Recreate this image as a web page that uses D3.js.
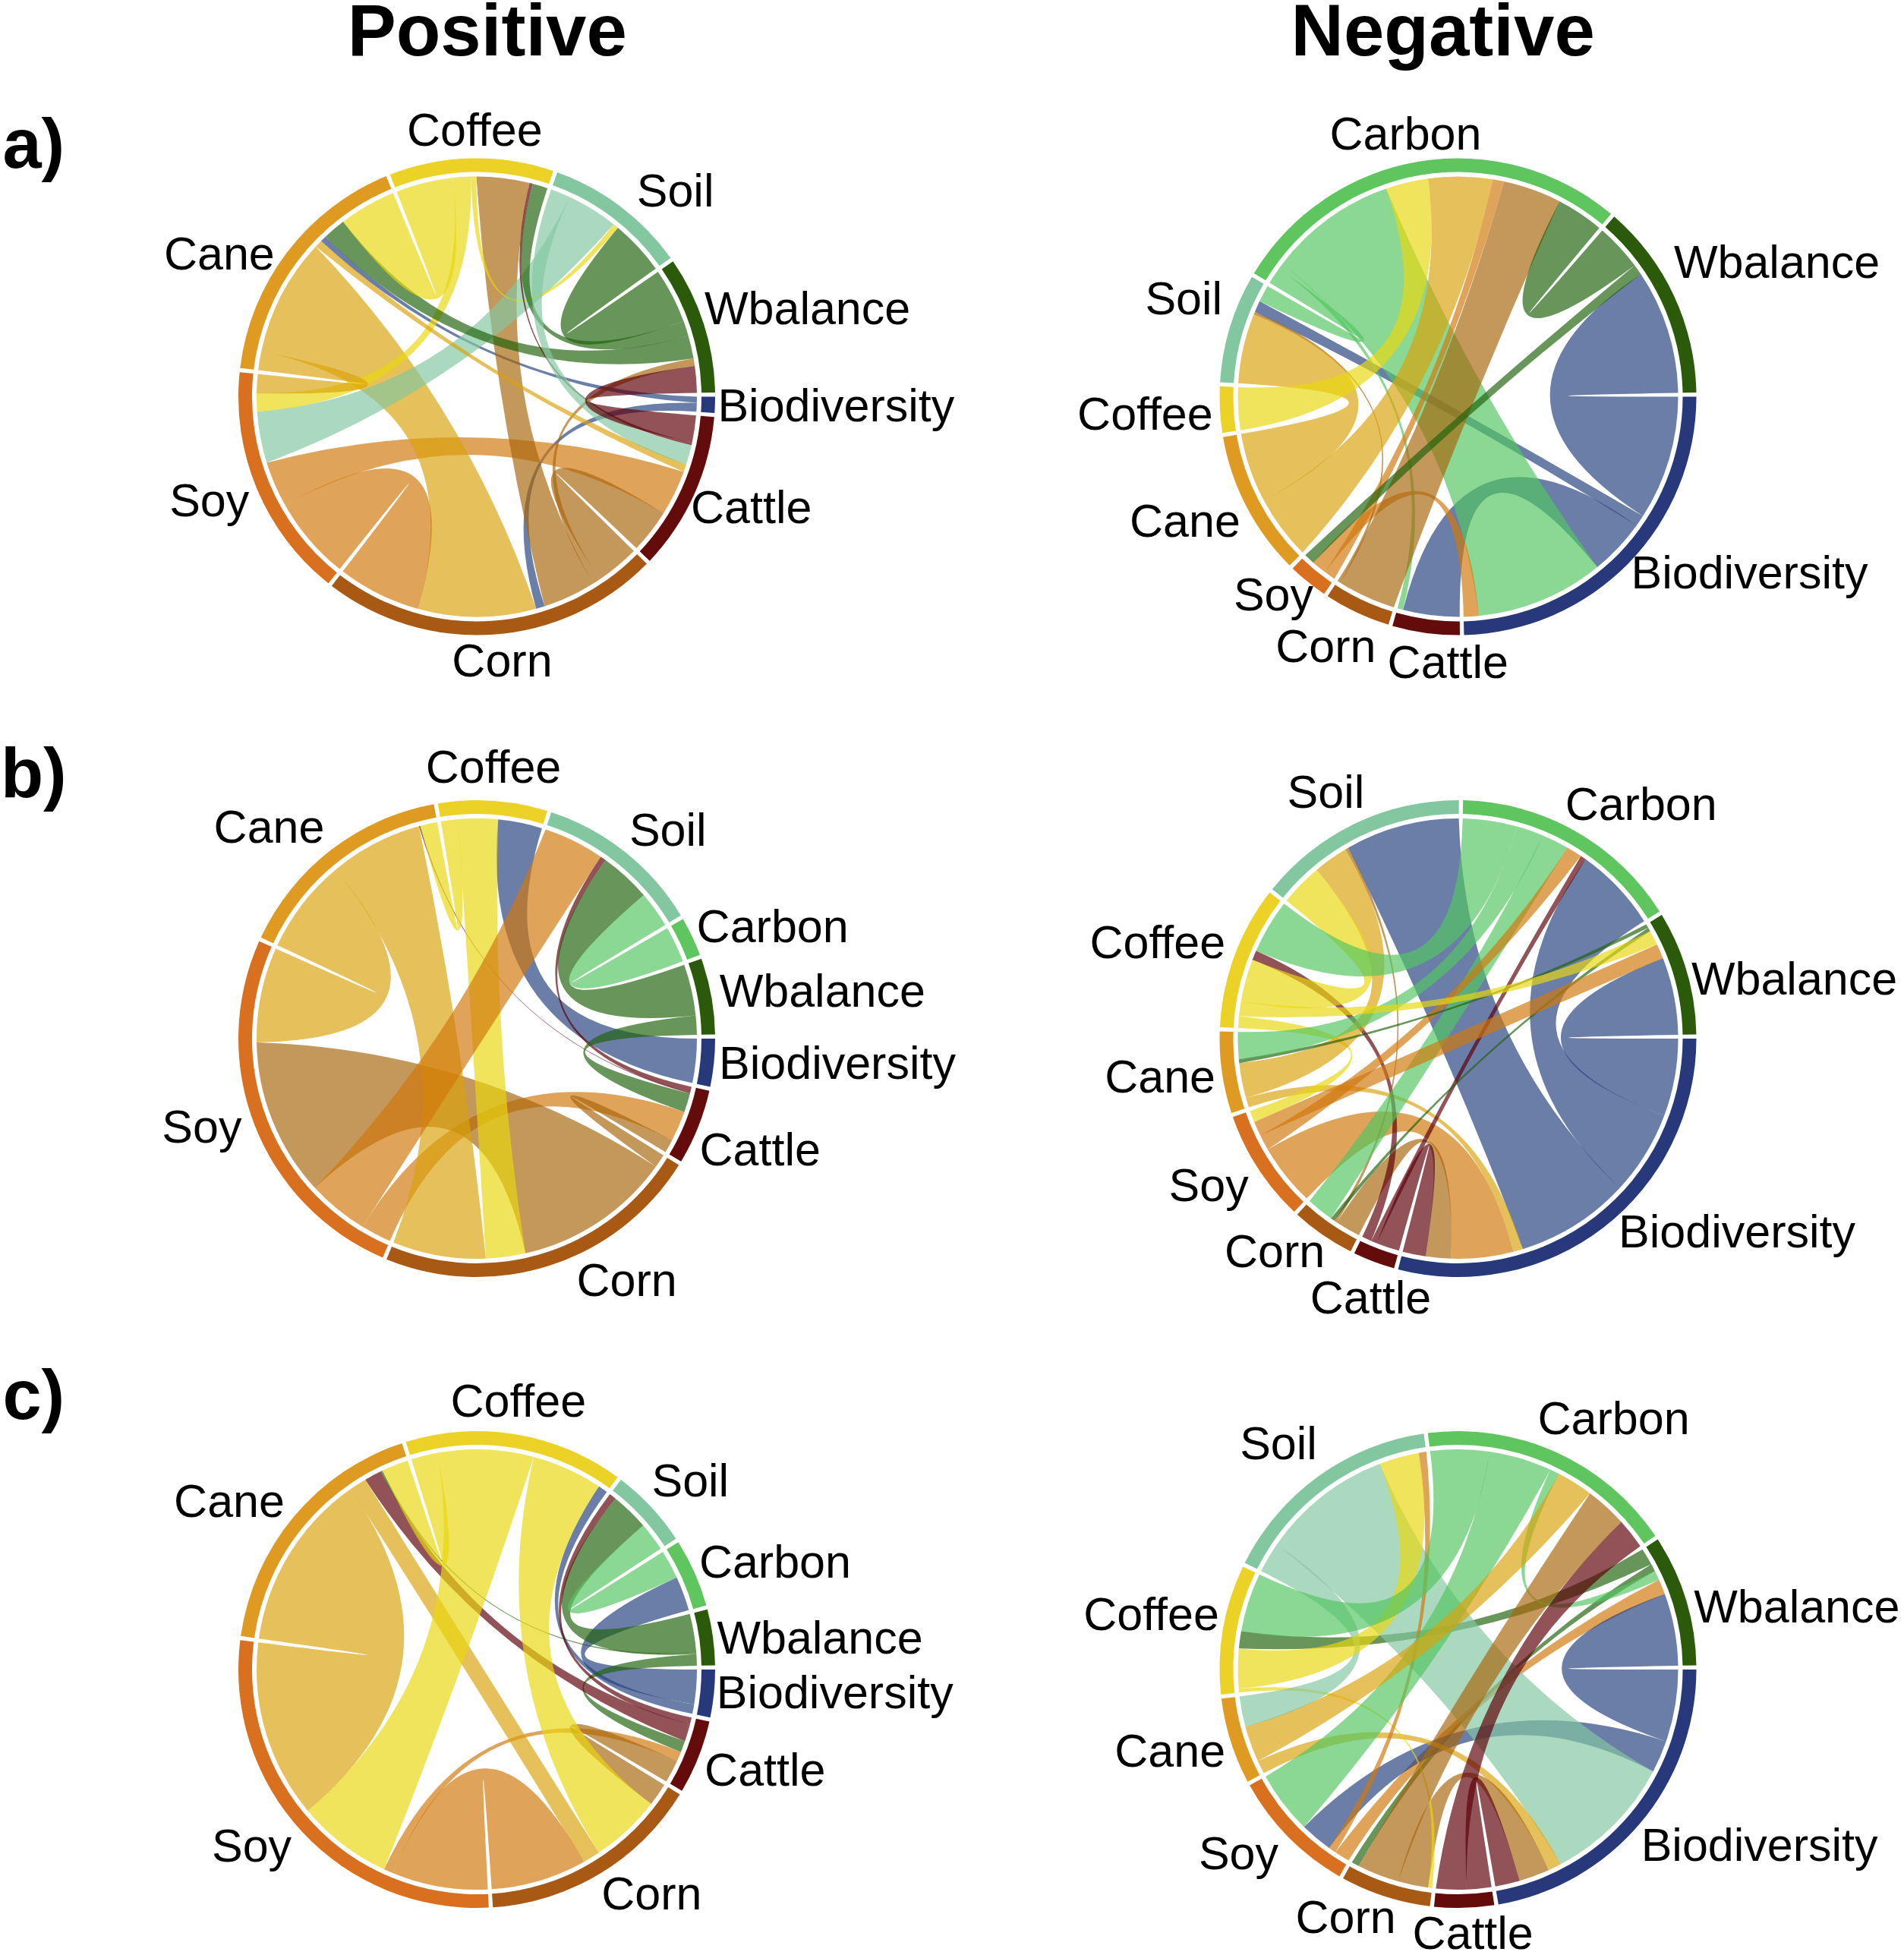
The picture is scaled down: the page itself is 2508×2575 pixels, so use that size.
<!DOCTYPE html>
<html>
<head>
<meta charset="utf-8">
<script src="https://cdn.jsdelivr.net/npm/d3@7"></script>
<style>
  body { margin: 0; background: #fff; }
  text { font-family: "Liberation Sans", Arial, sans-serif; fill: #000; }
</style>
</head>
<body>
<div id="vis-holder"></div>
<script>
// Sector colours, the ribbons use a slightly different set than the outer ring
const sectorNames = ["Biodiversity", "Cattle", "Corn", "Soy", "Cane", "Coffee", "Soil", "Carbon", "Wbalance"];
const sectorColors = ["#27397a", "#640c0c", "#a85a14", "#d9701f", "#df9a22", "#ecd226", "#83c7a1", "#5fc55f", "#2a5a0a"];
const ribbonColors = ["#25417f", "#5d0009", "#a8650c", "#d1780c", "#daa20c", "#e9d70f", "#83c7a1", "#53c660", "#21630c"];

// a) Positive. Each link is [colour owner, other sector, value]
const sectorsA1 = ["Biodiversity", "Cattle", "Corn", "Soy", "Cane", "Coffee", "Soil", "Wbalance"];
const linksA1 = [
  ["Biodiversity", "Cane", 1.6], ["Biodiversity", "Corn", 2.3],
  ["Soy", "Cattle", 12], ["Corn", "Cattle", 11.5], ["Corn", "Wbalance", 2], ["Corn", "Coffee", 14],
  ["Cane", "Corn", 31], ["Soy", "Corn", 22], ["Soil", "Soy", 13.5], ["Coffee", "Soy", 4.8],
  ["Cane", "Soy", 5], ["Cane", "Cattle", 2], ["Wbalance", "Cane", 6], ["Coffee", "Cane", 15],
  ["Coffee", "Soil", 1.4], ["Cattle", "Coffee", 0.8], ["Wbalance", "Coffee", 4], ["Wbalance", "Soil", 14.5],
  ["Soil", "Cattle", 5.2], ["Cattle", "Wbalance", 7]
];
const orderA1 = {
  Biodiversity: ["Cane", "Corn"],
  Cattle: ["Wbalance", "Coffee", "Soil", "Cane", "Soy", "Corn"],
  Corn: ["Cattle", "Wbalance", "Coffee", "Biodiversity", "Cane", "Soy"],
  Soy: ["Corn", "Cattle", "Soil", "Coffee", "Cane"],
  Cane: ["Soy", "Corn", "Cattle", "Biodiversity", "Wbalance", "Coffee"],
  Coffee: ["Cane", "Soy", "Soil", "Corn", "Cattle", "Wbalance"],
  Soil: ["Cattle", "Soy", "Coffee", "Wbalance"],
  Wbalance: ["Soil", "Coffee", "Cane", "Corn", "Cattle"]
};

// a) Negative
const sectorsA2 = ["Biodiversity", "Cattle", "Corn", "Soy", "Cane", "Coffee", "Soil", "Carbon", "Wbalance"];
const linksA2 = [
  ["Biodiversity", "Wbalance", 33], ["Biodiversity", "Soil", 3], ["Biodiversity", "Cattle", 15],
  ["Carbon", "Biodiversity", 34], ["Soy", "Biodiversity", 4], ["Carbon", "Cattle", 1.5],
  ["Corn", "Carbon", 15.5], ["Corn", "Soil", 0.8], ["Soy", "Carbon", 3], ["Cane", "Carbon", 17],
  ["Cane", "Soil", 18.5], ["Coffee", "Carbon", 11.3], ["Carbon", "Soil", 4.5],
  ["Wbalance", "Carbon", 12.5], ["Wbalance", "Soy", 2.8]
];
const orderA2 = {
  Biodiversity: ["Wbalance", "Soil", "Cattle", "Carbon", "Soy"],
  Cattle: ["Biodiversity", "Carbon"],
  Corn: ["Carbon", "Soil"],
  Soy: ["Carbon", "Biodiversity", "Wbalance"],
  Cane: ["Carbon", "Soil"],
  Coffee: ["Carbon"],
  Soil: ["Cane", "Corn", "Biodiversity", "Carbon"],
  Carbon: ["Soil", "Cattle", "Biodiversity", "Coffee", "Cane", "Soy", "Corn", "Wbalance"],
  Wbalance: ["Carbon", "Soy", "Biodiversity"]
};

// b) Positive
const sectorsB1 = ["Biodiversity", "Cattle", "Corn", "Soy", "Cane", "Coffee", "Soil", "Carbon", "Wbalance"];
const linksB1 = [
  ["Biodiversity", "Coffee", 11.6], ["Cattle", "Soil", 1.5], ["Cattle", "Cane", 0.3],
  ["Wbalance", "Cattle", 5], ["Soy", "Cattle", 8], ["Corn", "Cattle", 3.5], ["Corn", "Soy", 41.5],
  ["Coffee", "Corn", 10.4], ["Cane", "Corn", 24.5], ["Soy", "Soil", 16], ["Cane", "Soy", 25],
  ["Coffee", "Cane", 4.5], ["Wbalance", "Soil", 13.5], ["Carbon", "Soil", 9.5]
];
const orderB1 = {
  Biodiversity: ["Coffee"],
  Cattle: ["Soil", "Cane", "Wbalance", "Soy", "Corn"],
  Corn: ["Cattle", "Soy", "Coffee", "Cane"],
  Soy: ["Cattle", "Soil", "Corn", "Cane"],
  Cane: ["Soy", "Corn", "Cattle", "Coffee"],
  Coffee: ["Cane", "Corn", "Biodiversity"],
  Soil: ["Soy", "Cattle", "Wbalance", "Carbon"],
  Carbon: ["Soil"],
  Wbalance: ["Soil", "Cattle"]
};

// b) Negative
const sectorsB2 = ["Biodiversity", "Cattle", "Corn", "Soy", "Cane", "Coffee", "Soil", "Carbon", "Wbalance"];
const linksB2 = [
  ["Biodiversity", "Wbalance", 20], ["Biodiversity", "Carbon", 21.8], ["Biodiversity", "Soil", 29.5],
  ["Cane", "Biodiversity", 2.5], ["Soy", "Biodiversity", 16], ["Corn", "Biodiversity", 6.5],
  ["Cattle", "Biodiversity", 6], ["Cattle", "Carbon", 1.5], ["Cattle", "Coffee", 2.5],
  ["Corn", "Soil", 0.8], ["Wbalance", "Corn", 1], ["Carbon", "Corn", 7], ["Soy", "Carbon", 4],
  ["Soy", "Wbalance", 3.8], ["Coffee", "Soy", 3], ["Cane", "Soil", 9], ["Wbalance", "Cane", 1],
  ["Carbon", "Cane", 7], ["Coffee", "Wbalance", 3.8], ["Coffee", "Soil", 11], ["Carbon", "Coffee", 14]
];
const orderB2 = {
  Biodiversity: ["Wbalance", "Carbon", "Soil", "Cane", "Soy", "Corn", "Cattle"],
  Cattle: ["Biodiversity", "Carbon", "Coffee"],
  Corn: ["Biodiversity", "Soil", "Wbalance", "Carbon"],
  Soy: ["Biodiversity", "Carbon", "Wbalance", "Coffee"],
  Cane: ["Biodiversity", "Soil", "Wbalance", "Carbon"],
  Coffee: ["Soy", "Wbalance", "Soil", "Cattle", "Carbon"],
  Soil: ["Coffee", "Cane", "Corn", "Biodiversity"],
  Carbon: ["Coffee", "Cane", "Corn", "Soy", "Cattle", "Biodiversity"],
  Wbalance: ["Cane", "Corn", "Coffee", "Soy", "Biodiversity"]
};

// c) Positive
const sectorsC1 = ["Biodiversity", "Cattle", "Corn", "Soy", "Cane", "Coffee", "Soil", "Carbon", "Wbalance"];
const linksC1 = [
  ["Biodiversity", "Carbon", 9], ["Biodiversity", "Coffee", 2.5], ["Wbalance", "Soil", 10],
  ["Wbalance", "Cane", 0.5], ["Wbalance", "Cattle", 3], ["Cattle", "Soil", 1.8], ["Cattle", "Cane", 4.5],
  ["Soy", "Cattle", 2.5], ["Corn", "Cattle", 6], ["Coffee", "Corn", 18.5], ["Cane", "Corn", 4.5],
  ["Soy", "Corn", 25], ["Coffee", "Soy", 25], ["Cane", "Soy", 46.5], ["Coffee", "Cane", 7],
  ["Carbon", "Soil", 7.5]
];
const orderC1 = {
  Biodiversity: ["Carbon", "Coffee"],
  Cattle: ["Soil", "Cane", "Wbalance", "Soy", "Corn"],
  Corn: ["Cattle", "Coffee", "Cane", "Soy"],
  Soy: ["Corn", "Cattle", "Coffee", "Cane"],
  Cane: ["Soy", "Corn", "Cattle", "Wbalance", "Coffee"],
  Coffee: ["Cane", "Soy", "Corn", "Biodiversity"],
  Soil: ["Cattle", "Wbalance", "Carbon"],
  Carbon: ["Soil", "Biodiversity"],
  Wbalance: ["Soil", "Cane", "Cattle"]
};

// c) Negative
const sectorsC2 = ["Biodiversity", "Cattle", "Corn", "Soy", "Cane", "Coffee", "Soil", "Carbon", "Wbalance"];
const linksC2 = [
  ["Wbalance", "Coffee", 4.5], ["Wbalance", "Corn", 2], ["Carbon", "Wbalance", 2.5], ["Soy", "Wbalance", 4],
  ["Biodiversity", "Wbalance", 19], ["Biodiversity", "Soy", 8.5], ["Soil", "Biodiversity", 34.5],
  ["Cane", "Biodiversity", 3.5], ["Corn", "Biodiversity", 8], ["Cattle", "Biodiversity", 6.5],
  ["Cattle", "Carbon", 8], ["Coffee", "Corn", 1], ["Corn", "Carbon", 11], ["Soy", "Soil", 2],
  ["Carbon", "Soy", 16.5], ["Cane", "Carbon", 9.5], ["Soil", "Cane", 8], ["Coffee", "Soil", 10.5],
  ["Carbon", "Coffee", 15.5]
];
const orderC2 = {
  Biodiversity: ["Wbalance", "Soy", "Soil", "Cane", "Corn", "Cattle"],
  Cattle: ["Biodiversity", "Carbon"],
  Corn: ["Coffee", "Biodiversity", "Carbon", "Wbalance"],
  Soy: ["Wbalance", "Soil", "Biodiversity", "Carbon"],
  Cane: ["Biodiversity", "Carbon", "Soil"],
  Coffee: ["Corn", "Soil", "Wbalance", "Carbon"],
  Soil: ["Cane", "Biodiversity", "Coffee", "Soy"],
  Carbon: ["Coffee", "Soy", "Wbalance", "Cane", "Corn", "Cattle"],
  Wbalance: ["Coffee", "Corn", "Carbon", "Soy", "Biodiversity"]
};

// Label spots, measured on a 1528 px wide copy of the figure (see k below)
const labelsA1 = { Coffee: [381, 104], Soil: [542, 153], Wbalance: [648, 247], Biodiversity: [671, 325], Cattle: [603, 407], Corn: [403, 530], Soy: [168, 401], Cane: [176, 203] };
const labelsA2 = { Carbon: [1128, 107], Wbalance: [1426, 210], Biodiversity: [1404, 459], Cattle: [1162, 531], Corn: [1064, 518], Soy: [1022, 477], Cane: [951, 418], Coffee: [919, 332], Soil: [950, 239] };
const labelsB1 = { Coffee: [396, 615], Soil: [536, 666], Carbon: [620, 743], Wbalance: [660, 795], Biodiversity: [672, 853], Cattle: [610, 922], Corn: [503, 1027], Soy: [162, 904], Cane: [216, 663] };
const labelsB2 = { Soil: [1064, 635], Carbon: [1317, 645], Wbalance: [1440, 785], Biodiversity: [1394, 988], Cattle: [1100, 1041], Corn: [1023, 1004], Soy: [970, 951], Cane: [931, 864], Coffee: [929, 756] };
const labelsC1 = { Coffee: [416, 1124], Soil: [554, 1188], Carbon: [622, 1253], Wbalance: [658, 1314], Biodiversity: [670, 1358], Cattle: [614, 1420], Corn: [523, 1519], Soy: [202, 1481], Cane: [184, 1204] };
const labelsC2 = { Carbon: [1295, 1138], Soil: [1026, 1158], Wbalance: [1442, 1289], Biodiversity: [1412, 1480], Cattle: [1182, 1551], Corn: [1080, 1538], Soy: [994, 1487], Cane: [939, 1405], Coffee: [924, 1295] };

const k = 2508 / 1528;
const width = 2508;
const height = 2575;
const ringOuter = 314;
const ringInner = 296;
const ribbonRadius = 290;
const gap = 1 * Math.PI / 180;

const panels = [
  { cx: 628, cy: 522.5, sectors: sectorsA1, links: linksA1, order: orderA1, labels: labelsA1 },
  { cx: 1920.5, cy: 522.5, sectors: sectorsA2, links: linksA2, order: orderA2, labels: labelsA2 },
  { cx: 628, cy: 1368, sectors: sectorsB1, links: linksB1, order: orderB1, labels: labelsB1 },
  { cx: 1920.5, cy: 1368, sectors: sectorsB2, links: linksB2, order: orderB2, labels: labelsB2 },
  { cx: 628, cy: 2199, sectors: sectorsC1, links: linksC1, order: orderC1, labels: labelsC1 },
  { cx: 1920.5, cy: 2199, sectors: sectorsC2, links: linksC2, order: orderC2, labels: labelsC2 }
];

const color = d3.scaleOrdinal().domain(sectorNames).range(sectorColors);
const ribbonColor = d3.scaleOrdinal().domain(sectorNames).range(ribbonColors);

const svg = d3.select("#vis-holder")
  .append("svg")
  .attr("width", width)
  .attr("height", height)
  .attr("viewBox", [0, 0, width, height]);

const ringArc = d3.arc().innerRadius(ringInner).outerRadius(ringOuter);

// d3.ribbon pinches every band at the centre, circlize flattens the edge when the
// two ends get nearly opposite, so the control point slides to the chord middle there
function ribbonEdge(path, a0, a1) {
  const x0 = ribbonRadius * Math.cos(a0), y0 = ribbonRadius * Math.sin(a0);
  const x1 = ribbonRadius * Math.cos(a1), y1 = ribbonRadius * Math.sin(a1);
  let apart = Math.abs(a1 - a0) % (2 * Math.PI);
  if (apart > Math.PI) apart = 2 * Math.PI - apart;
  const flat = Math.pow(apart / Math.PI, 8);
  path.quadraticCurveTo(flat * (x0 + x1) / 2, flat * (y0 + y1) / 2, x1, y1);
}

function ribbonPath(s, t) {
  const path = d3.path();
  path.moveTo(ribbonRadius * Math.cos(s[0]), ribbonRadius * Math.sin(s[0]));
  path.arc(0, 0, ribbonRadius, s[0], s[1]);
  ribbonEdge(path, s[1], t[0]);
  path.arc(0, 0, ribbonRadius, t[0], t[1]);
  ribbonEdge(path, t[1], s[0]);
  path.closePath();
  return path.toString();
}

function drawPanel(p) {
  const g = svg.append("g").attr("transform", `translate(${p.cx},${p.cy})`);

  // every link takes its value once at each of its two ends
  const total = 2 * d3.sum(p.links, (d) => d[2]);
  const angle = d3.scaleLinear()
    .domain([0, total])
    .range([0, 2 * Math.PI - p.sectors.length * gap]);

  const arcs = [];
  const ends = new Map();
  let used = 0;
  p.sectors.forEach((name, i) => {
    const start = used;
    p.order[name].forEach((other) => {
      const link = p.links.find((d) => (d[0] === name && d[1] === other) || (d[1] === name && d[0] === other));
      ends.set(name + ">" + other, [angle(used) + i * gap, angle(used + link[2]) + i * gap]);
      used += link[2];
    });
    // d3.arc counts from 12 o'clock, the circle starts at 3 o'clock
    arcs.push({
      name,
      startAngle: angle(start) + i * gap + Math.PI / 2,
      endAngle: angle(used) + i * gap + Math.PI / 2
    });
  });

  g.selectAll(".chord")
    .data(p.links)
    .enter()
    .append("path")
    .attr("class", "chord")
    .attr("d", (d) => ribbonPath(ends.get(d[0] + ">" + d[1]), ends.get(d[1] + ">" + d[0])))
    .attr("fill", (d) => ribbonColor(d[0]))
    .attr("fill-opacity", 0.68);

  g.selectAll(".ring")
    .data(arcs)
    .enter()
    .append("path")
    .attr("class", "ring")
    .attr("d", ringArc)
    .attr("fill", (d) => color(d.name));

  svg.append("g")
    .selectAll("text")
    .data(Object.entries(p.labels))
    .enter()
    .append("text")
    .attr("x", (d) => d[1][0] * k)
    .attr("y", (d) => d[1][1] * k)
    .attr("dy", "0.35em")
    .attr("text-anchor", "middle")
    .attr("font-size", 61)
    .text((d) => d[0]);
}

panels.forEach(drawPanel);

// Column titles and row letters
svg.selectAll(".title")
  .data([["Positive", 391], ["Negative", 1158]])
  .enter()
  .append("text")
  .attr("class", "title")
  .attr("x", (d) => d[1] * k)
  .attr("y", 24 * k)
  .attr("dy", "0.35em")
  .attr("text-anchor", "middle")
  .attr("font-size", 96)
  .attr("font-weight", "bold")
  .text((d) => d[0]);

svg.selectAll(".row")
  .data([["a)", 115], ["b)", 620], ["c)", 1119]])
  .enter()
  .append("text")
  .attr("class", "row")
  .attr("x", 27 * k)
  .attr("y", (d) => d[1] * k)
  .attr("dy", "0.35em")
  .attr("text-anchor", "middle")
  .attr("font-size", 92)
  .attr("font-weight", "bold")
  .text((d) => d[0]);
</script>
</body>
</html>
